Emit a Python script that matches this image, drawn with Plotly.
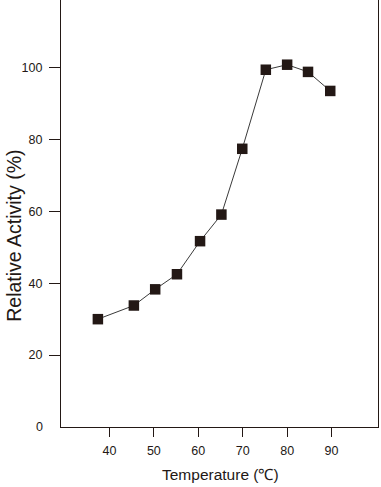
import plotly.graph_objects as go

temperature = [37.4, 45.5, 50.3, 55.2, 60.4, 65.2, 69.9, 75.2, 80.0, 84.7, 89.7]
activity = [30.0, 33.8, 38.3, 42.5, 51.7, 59.1, 77.4, 99.4, 100.8, 98.8, 93.5]
x_ticks = [40, 50, 60, 70, 80, 90]
y_ticks = [20, 40, 60, 80, 100]

ink = "#231815"
font_family = "Liberation Sans, Arial, sans-serif"

W, H = 381, 487
ML, MR, MT, MB = 61, 3, 0, 60
PW, PH = W - ML - MR, H - MT - MB

fig = go.Figure()
fig.add_trace(go.Scatter(
    x=temperature, y=activity, mode="lines+markers",
    line=dict(color="#3a3a3a", width=1),
    marker=dict(symbol="square", size=10.5, color=ink),
    showlegend=False,
))
fig.add_trace(go.Scatter(x=[temperature[0]], y=[activity[0]], yaxis="y2",
                         mode="markers", marker=dict(opacity=0), showlegend=False, hoverinfo="skip"))

fig.update_layout(
    width=W, height=H,
    margin=dict(l=ML, r=MR, t=MT, b=MB, autoexpand=False),
    paper_bgcolor="white", plot_bgcolor="white",
    font=dict(family=font_family, size=13, color=ink),
    xaxis=dict(range=[29.1, 100.45], tickvals=x_ticks, ticks="outside", ticklen=9,
               tickcolor=ink, showline=True, linecolor=ink, linewidth=1.2,
               showgrid=False, zeroline=False, tickfont=dict(size=12.5, color=ink),
               ticklabelstandoff=3, automargin=False),
    yaxis=dict(range=[0, 118.8], tickvals=y_ticks, ticks="outside", ticklen=11,
               tickcolor=ink, showline=True, linecolor=ink, linewidth=1.2,
               showgrid=False, zeroline=False, tickfont=dict(size=12.5, color=ink),
               ticklabelstandoff=4, automargin=False),
    yaxis2=dict(range=[0, 118.8], overlaying="y", side="right", showline=True,
                linecolor=ink, linewidth=1.2, showticklabels=False, ticks="",
                showgrid=False, zeroline=False, automargin=False),
    annotations=[
        dict(text="0", x=0, y=0, xref="paper", yref="y", xanchor="right",
             yanchor="middle", xshift=-16, showarrow=False,
             font=dict(size=12.5, color=ink)),
        dict(text="Temperature (℃)", x=(220 - ML) / PW, y=-(475 - MT - PH) / PH,
             xref="paper", yref="paper", xanchor="center", yanchor="middle",
             showarrow=False, font=dict(size=15.5, color=ink)),
        dict(text="Relative Activity (%)", x=-(ML - 13.3) / PW, y=(MT + PH - 235.5) / PH,
             xref="paper", yref="paper", xanchor="center", yanchor="middle",
             textangle=-90, showarrow=False, font=dict(size=19.5, color=ink)),
    ],
)

fig.write_html("out.html", config={"displayModeBar": False},
               post_script="document.body.style.margin='0';document.body.style.overflow='hidden';")
